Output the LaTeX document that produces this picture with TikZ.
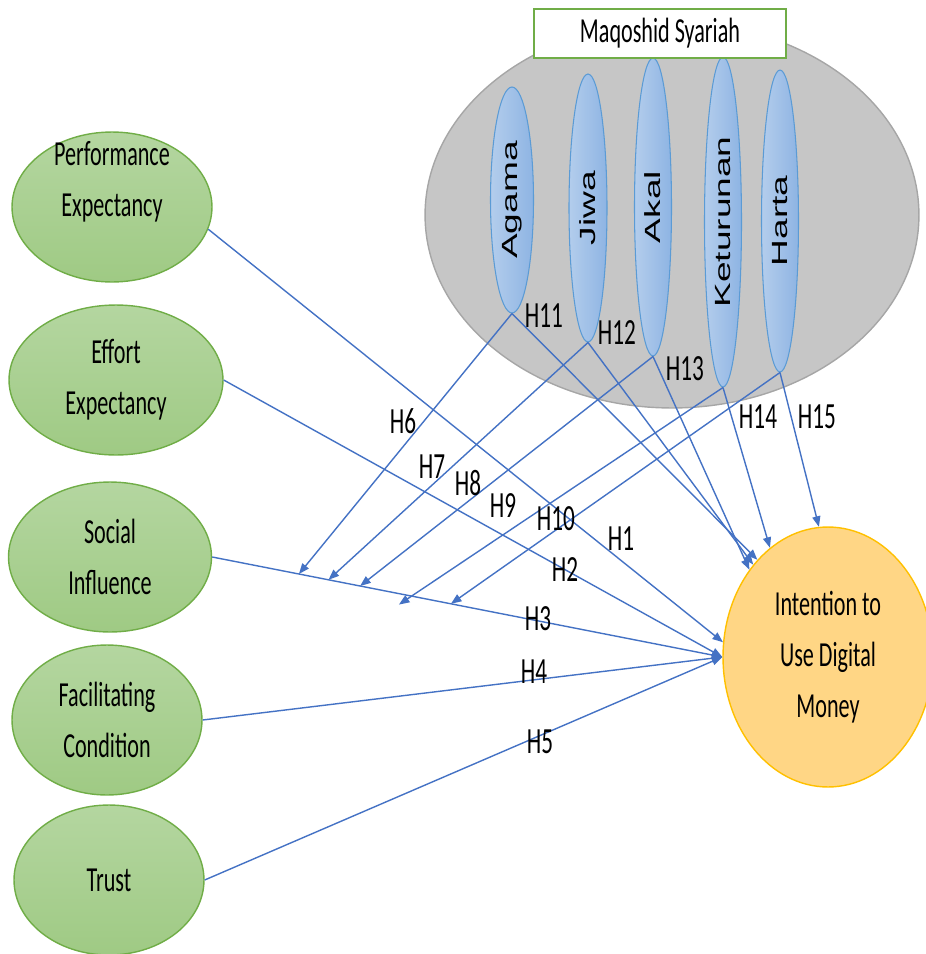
\documentclass[tikz,border=0pt]{standalone}
\usepackage{fontspec}
\setmainfont{Carlito}
\newfontfamily\narrowfont[FakeStretch=0.63]{Carlito}
\newfontfamily\tallfont[FakeStretch=1.69]{Liberation Sans}
\usetikzlibrary{arrows.meta,shapes.geometric}

\definecolor{arrowblue}{HTML}{4472C4}
\definecolor{grnline}{HTML}{70AD47}
\definecolor{grntop}{HTML}{B4D6A0}
\definecolor{grnbot}{HTML}{9FCA84}
\definecolor{bluline}{HTML}{5B9BD5}
\definecolor{blutop}{HTML}{B3CDEC}
\definecolor{blubot}{HTML}{8EB4E3}
\definecolor{grayfill}{HTML}{C6C6C6}
\definecolor{grayline}{HTML}{A6A6A6}
\definecolor{orgline}{HTML}{FFC000}
\definecolor{orgfill}{HTML}{FFD685}

\begin{document}
\begin{tikzpicture}[x=0.02cm,y=-0.02cm,>={Triangle[length=6pt,width=4.6pt]},
        txt/.style={font=\narrowfont\fontsize{20}{29}\selectfont,align=center},
        main node/.style={ellipse,draw=grnline,top color=grntop,bottom color=grnbot,line width=0.8pt,inner sep=0pt,minimum height=3cm,txt},
        pillar/.style={ellipse,draw=bluline,left color=blutop,right color=blubot,line width=0.6pt,inner sep=0pt,minimum width=0.74cm,font=\tallfont\fontsize{12.5}{15}\selectfont},
        hyp/.style={font=\narrowfont\fontsize{21}{25}\selectfont,inner sep=0pt},
        link/.style={->,color=arrowblue,line width=0.8pt}]
        \useasboundingbox (0,0) rectangle (926,954);

        % maqashid block
        \node[ellipse,draw=grayline,fill=grayfill,line width=0.8pt,minimum width=9.88cm,minimum height=7.72cm] (maq) at (672,215) {};
        \node[pillar,minimum width=0.86cm,minimum height=4.52cm] (agama) at (512,200) {\rotatebox{90}{Agama}};
        \node[pillar,minimum width=0.76cm,minimum height=5.36cm] (jiwa) at (588,208) {\rotatebox{90}{Jiwa}};
        \node[pillar,minimum height=5.96cm] (akal) at (653,207) {\rotatebox{90}{Akal}};
        \node[pillar,minimum height=6.6cm] (ket) at (723,222) {\rotatebox{90}{Keturunan}};
        \node[pillar,minimum height=6.04cm] (harta) at (780,221) {\rotatebox{90}{Harta}};
        \node[rectangle,draw=grnline,fill=white,line width=0.8pt,minimum width=5.04cm,minimum height=0.98cm,txt] (title) at (660,33.5) {Maqoshid Syariah};

        % constructs
        \node[main node,minimum width=4cm] (pe) at (112,207) {};
        \node[txt] (petext) at (112,182) {Performance\\Expectancy};
        \node[main node,minimum width=4.28cm] (ee) at (116,380) {Effort\\Expectancy};
        \node[main node,minimum width=4.06cm] (si) at (110,557) {Social\\Influence};
        \node[main node,minimum width=3.8cm] (fc) at (107,720) {Facilitating\\Condition};
        \node[main node,minimum width=3.8cm] (tr) at (109,880) {Trust};
        \node[ellipse,draw=orgline,fill=orgfill,line width=0.8pt,inner sep=0pt,minimum width=4.2cm,minimum height=5.2cm,txt] (oc) at (828,657) {Intention to\\Use Digital\\Money};

        % moderation points on the H3 path
        \path (si.east) -- (oc.180)
        coordinate[pos=0.17] (t6)
        coordinate[pos=0.228] (t7)
        coordinate[pos=0.29] (t8)
        coordinate[pos=0.366,yshift=-0.22cm] (t9)
        coordinate[pos=0.468] (t10);

        \path[link]
        (pe.-13) edge (oc.172)
        (ee.east) edge (oc.180)
        (si.east) edge (oc.180)
        (fc.east) edge (oc.180)
        (tr.east) edge (oc.180)
        (agama.south) edge (t6)
        (jiwa.south) edge (t7)
        (akal.south) edge (t8)
        (ket.south) edge (t9)
        (harta.south) edge (t10)
        (agama.south) edge (oc.126)
        (jiwa.south) edge (oc.129)
        (akal.south) edge (oc.132)
        (ket.south) edge (oc.118)
        (harta.south) edge (oc.94)
        ;

        % hypothesis labels
        \node[hyp] (h1) at (621,539) {H1};
        \node[hyp] (h2) at (565,570) {H2};
        \node[hyp] (h3) at (538,619) {H3};
        \node[hyp] (h4) at (534,672) {H4};
        \node[hyp] (h5) at (540,742) {H5};
        \node[hyp] (h6) at (403,421) {H6};
        \node[hyp] (h7) at (432,467) {H7};
        \node[hyp] (h8) at (468,483) {H8};
        \node[hyp] (h9) at (503,506) {H9};
        \node[hyp] (h10) at (556,519) {H10};
        \node[hyp] (h11) at (544,316) {H11};
        \node[hyp] (h12) at (617,333) {H12};
        \node[hyp] (h13) at (685,369) {H13};
        \node[hyp] (h14) at (758,417) {H14};
        \node[hyp] (h15) at (817,417) {H15};
\end{tikzpicture}
\end{document}
